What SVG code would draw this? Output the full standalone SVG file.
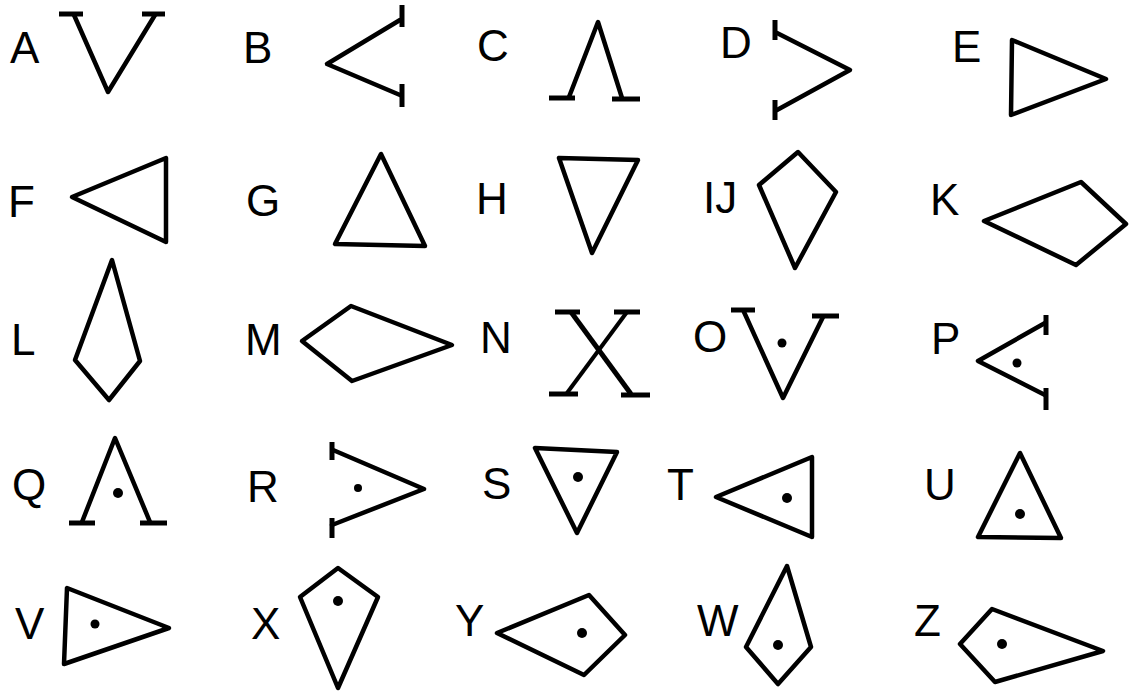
<svg xmlns="http://www.w3.org/2000/svg" width="1129" height="691" viewBox="0 0 1129 691">
<style>
text{font-family:"Liberation Sans",Arial,sans-serif;font-size:44px;fill:#000}
.s{fill:none;stroke:#000;stroke-width:4.5;stroke-linejoin:round;stroke-linecap:round}
.b{fill:none;stroke:#000;stroke-width:5;stroke-linecap:butt}
.d{fill:#000}
</style>
<rect width="1129" height="691" fill="#fff"/>
<g id="A"><text x="10" y="63">A</text><polyline class="s" points="74,15 108,92 155,15"/><line class="b" x1="59" y1="14" x2="83" y2="14"/><line class="b" x1="142" y1="14" x2="165" y2="14"/></g>
<g id="B"><text x="243" y="63">B</text><polyline class="s" points="400,20 327,64 400,95"/><line class="b" x1="402" y1="5" x2="402" y2="27"/><line class="b" x1="402" y1="84" x2="402" y2="107"/></g>
<g id="C"><text x="477" y="61">C</text><polyline class="s" points="569,97 598,22 622,98"/><line class="b" x1="549" y1="98" x2="575" y2="98"/><line class="b" x1="612" y1="99" x2="640" y2="99"/></g>
<g id="D"><text x="720" y="58">D</text><polyline class="s" points="777,33 850,70 777,110"/><line class="b" x1="775" y1="20" x2="775" y2="40"/><line class="b" x1="775" y1="100" x2="775" y2="120"/></g>
<g id="E"><text x="952" y="62">E</text><polygon class="s" points="1012,40 1011,115 1106,79"/></g>
<g id="F"><text x="8" y="217">F</text><polygon class="s" points="72,197 166,158 166,242"/></g>
<g id="G"><text x="246" y="216">G</text><polygon class="s" points="381,154 335,244 425,246"/></g>
<g id="H"><text x="476" y="214">H</text><polygon class="s" points="559,158 638,160 592,253"/></g>
<g id="IJ"><text x="703" y="213">IJ</text><polygon class="s" points="798,152 836,192 795,268 759,185"/></g>
<g id="K"><text x="930" y="215">K</text><polygon class="s" points="984,221 1081,182 1126,224 1076,265"/></g>
<g id="L"><text x="11" y="355">L</text><polygon class="s" points="112,260 140,361 109,400 75,360"/></g>
<g id="M"><text x="245" y="355">M</text><polygon class="s" points="302,341 351,306 452,345 352,381"/></g>
<g id="N"><text x="480" y="353">N</text><line x1="571" y1="312" x2="631" y2="394" stroke="#000" stroke-width="5"/><line x1="627" y1="312" x2="567" y2="393" stroke="#000" stroke-width="4"/><line class="b" x1="555" y1="312" x2="580" y2="312"/><line class="b" x1="614" y1="312" x2="640" y2="312"/><line class="b" x1="549" y1="394" x2="578" y2="394"/><line class="b" x1="621" y1="395" x2="650" y2="395"/></g>
<g id="O"><text x="693" y="352">O</text><polyline class="s" points="744,312 783,398 823,317"/><line class="b" x1="731" y1="310" x2="755" y2="310"/><line class="b" x1="812" y1="316" x2="839" y2="316"/><circle class="d" cx="782" cy="343" r="4.5"/></g>
<g id="P"><text x="931" y="354">P</text><polyline class="s" points="1045,323 978,361 1045,395"/><line class="b" x1="1046" y1="315" x2="1046" y2="335"/><line class="b" x1="1046" y1="388" x2="1046" y2="410"/><circle class="d" cx="1017" cy="363" r="4.5"/></g>
<g id="Q"><text x="12" y="500">Q</text><polyline class="s" points="82,522 115,438 150,522"/><line class="b" x1="69" y1="523" x2="95" y2="523"/><line class="b" x1="140" y1="523" x2="167" y2="523"/><circle class="d" cx="118" cy="493" r="5"/></g>
<g id="R"><text x="247" y="502">R</text><polyline class="s" points="333,450 424,489 332,525"/><line class="b" x1="332" y1="442" x2="332" y2="460"/><line class="b" x1="332" y1="518" x2="332" y2="538"/><circle class="d" cx="358" cy="488" r="4"/></g>
<g id="S"><text x="482" y="499">S</text><polygon class="s" points="535,448 617,452 577,533"/><circle class="d" cx="578" cy="477" r="5"/></g>
<g id="T"><text x="667" y="500">T</text><polygon class="s" points="716,497 812,457 812,537"/><circle class="d" cx="787" cy="498" r="5"/></g>
<g id="U"><text x="924" y="500">U</text><polygon class="s" points="1020,453 978,537 1061,538"/><circle class="d" cx="1020" cy="514" r="5"/></g>
<g id="V"><text x="15" y="639">V</text><polygon class="s" points="67,588 64,664 169,628"/><circle class="d" cx="95" cy="624" r="4.5"/></g>
<g id="X"><text x="251" y="639">X</text><polygon class="s" points="338,568 378,597 338,688 300,597"/><circle class="d" cx="338" cy="601" r="5"/></g>
<g id="Y"><text x="455" y="636">Y</text><polygon class="s" points="497,633 589,595 625,635 584,675"/><circle class="d" cx="582" cy="633" r="5"/></g>
<g id="W"><text x="697" y="636">W</text><polygon class="s" points="787,566 811,647 778,684 746,647"/><circle class="d" cx="778" cy="645" r="5"/></g>
<g id="Z"><text x="914" y="636">Z</text><polygon class="s" points="960,644 992,609 1103,651 995,682"/><circle class="d" cx="1002" cy="644" r="5"/></g>
</svg>
